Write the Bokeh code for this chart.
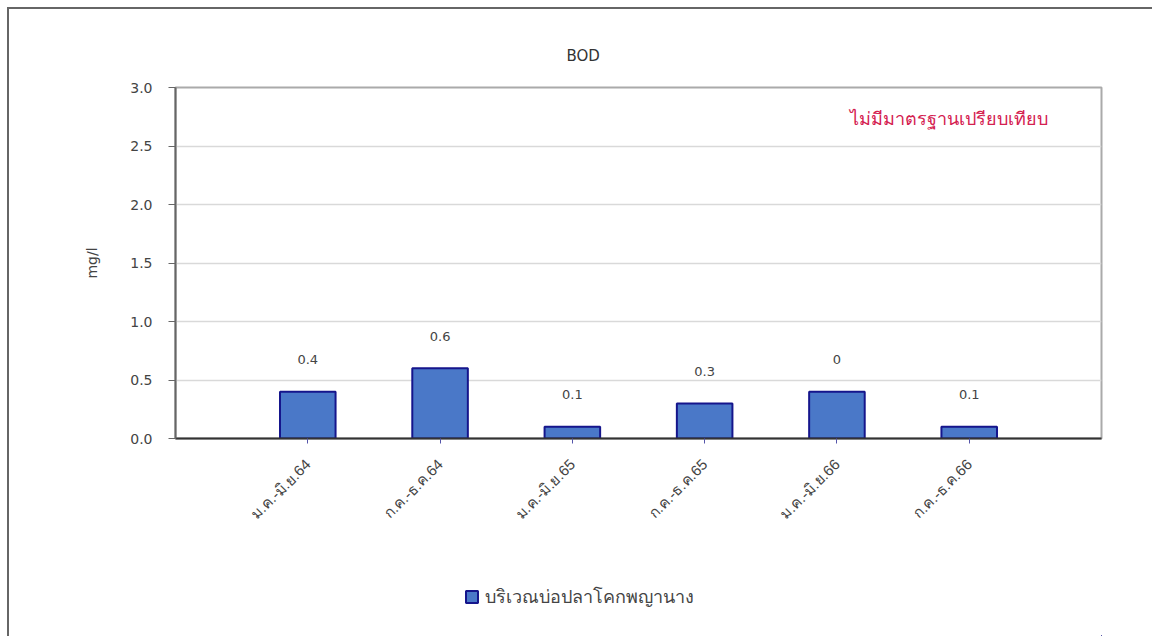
import math
from bokeh.plotting import figure
from bokeh.models import (Range1d, FixedTicker, Label, Legend, LegendItem,
                          ColumnDataSource, PrintfTickFormatter, Title)
from bokeh.layouts import column
from bokeh.embed import file_html
from bokeh.resources import INLINE
from bokeh.core.properties import value

# --- data -------------------------------------------------------------
periods = ["ม.ค.-มิ.ย.64", "ก.ค.-ธ.ค.64", "ม.ค.-มิ.ย.65",
           "ก.ค.-ธ.ค.65", "ม.ค.-มิ.ย.66", "ก.ค.-ธ.ค.66"]
bod = [0.4, 0.6, 0.1, 0.3, 0.4, 0.1]
bod_labels = ["0.4", "0.6", "0.1", "0.3", "0", "0.1"]
y_ticks = [0.0, 0.5, 1.0, 1.5, 2.0, 2.5, 3.0]
series_name = "บริเวณบ่อปลาโคกพญานาง"
chart_title = "BOD"
unit_label = "mg/l"
note_text = "ไม่มีมาตรฐานเปรียบเทียบ"

positions = [i + 1 for i in range(len(periods))]

FONT = "DejaVu Sans"
TEXT_COLOR = "#444444"
BAR_FILL = "#4a78c8"
BAR_LINE = "#15158c"
WIDTH = 1143

src = ColumnDataSource(dict(x=positions, top=bod, label=bod_labels))

p = figure(width=WIDTH, height=560,
           x_range=Range1d(0, len(periods) + 1), y_range=Range1d(0, 3),
           output_backend="svg", toolbar_location=None,
           min_border_left=166, min_border_right=51,
           min_border_top=78, min_border_bottom=131,
           background_fill_color="white", border_fill_color="white")

p.outline_line_color = "#aaaaaa"
p.outline_line_width = 2

# title, set left of the frame centre
p.title = Title(text=chart_title, align="left", offset=391, standoff=45,
                text_font=FONT, text_font_size="15px",
                text_font_style="normal", text_color="#333333")

# grid
p.xgrid.visible = False
p.ygrid.grid_line_color = "#d9d9d9"
p.ygrid.grid_line_width = 1.5

# y axis
p.yaxis.ticker = FixedTicker(ticks=y_ticks)
p.yaxis.formatter = PrintfTickFormatter(format="%.1f")
p.yaxis.axis_line_color = "#666666"
p.yaxis.axis_line_width = 2
p.yaxis.major_tick_line_color = "#666666"
p.yaxis.major_tick_out = 7
p.yaxis.major_tick_in = 0
p.yaxis.minor_tick_line_color = None
p.yaxis.major_label_text_font = FONT
p.yaxis.major_label_text_font_size = "14px"
p.yaxis.major_label_text_color = TEXT_COLOR
p.yaxis.major_label_standoff = 16
p.yaxis.axis_label = unit_label
p.yaxis.axis_label_text_font = FONT
p.yaxis.axis_label_text_font_style = "normal"
p.yaxis.axis_label_text_font_size = "14px"
p.yaxis.axis_label_text_color = TEXT_COLOR
p.yaxis.axis_label_standoff = 27

# x axis
p.xaxis.ticker = FixedTicker(ticks=positions)
p.xaxis.major_label_overrides = {pos: lab for pos, lab in zip(positions, periods)}
p.xaxis.major_label_orientation = math.pi / 4
p.xaxis.axis_line_color = "#333333"
p.xaxis.axis_line_width = 2
p.xaxis.major_tick_line_color = "#5555aa"
p.xaxis.major_tick_out = 5
p.xaxis.major_tick_in = 0
p.xaxis.minor_tick_line_color = None
p.xaxis.major_label_text_font_size = "15px"
p.xaxis.major_label_text_color = TEXT_COLOR
p.xaxis.major_label_standoff = 18

# bars
p.vbar(x="x", top="top", width=0.42, bottom=0, source=src,
       fill_color=BAR_FILL, line_color=BAR_LINE, line_width=2)

# value labels
p.text(x="x", y="top", text="label", source=src, y_offset=-32,
       text_align="center", text_baseline="middle",
       text_font=value(FONT), text_font_size="13px", text_color=TEXT_COLOR)

# note in the upper right of the plot area
p.add_layout(Label(x=5.85, y=2.735, text=note_text, text_align="center",
                   text_baseline="middle", text_font_size="18px",
                   text_color="#d42050"))

# legend strip under the chart; its bars sit outside the strip's view,
# only the legend swatch is shown
leg = figure(width=WIDTH, height=67, x_range=Range1d(-10, -9), y_range=Range1d(10, 11),
             output_backend="svg", toolbar_location=None, min_border=0,
             background_fill_color="white", border_fill_color="white")
leg.outline_line_color = None
leg.axis.visible = False
leg.grid.visible = False
swatch = leg.vbar(x="x", top="top", width=0.42, bottom=0, source=src,
                  fill_color=BAR_FILL, line_color=BAR_LINE, line_width=2)
legend = Legend(items=[LegendItem(label=series_name, renderers=[swatch])],
                location=(289, 25), orientation="horizontal",
                glyph_width=15, glyph_height=15, padding=0, margin=0,
                label_standoff=6, label_text_font_size="18px",
                label_text_color=TEXT_COLOR,
                border_line_color=None, background_fill_alpha=0)
leg.add_layout(legend)

page = column(p, leg, spacing=0,
              styles={"border-left": "2px solid #666666",
                      "border-top": "2px solid #666666",
                      "margin-left": "7px", "margin-top": "7px"})

open("out.html", "w").write(file_html(page, INLINE))
